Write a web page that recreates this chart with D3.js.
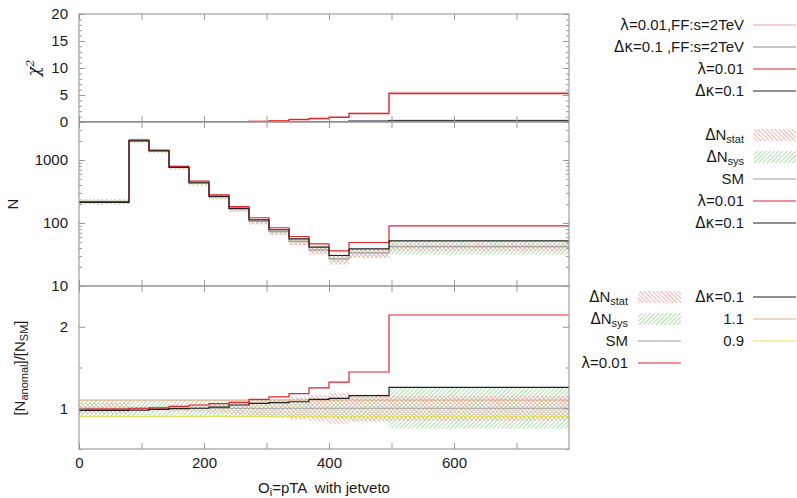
<!DOCTYPE html>
<html>
<head>
<meta charset="utf-8">
<script src="https://cdn.jsdelivr.net/npm/d3@7"></script>
<style>
body { margin: 0; background: #fff; }
text { font-family: "Liberation Sans", Arial, sans-serif; font-size: 15px; fill: #1a1a1a; }
.gr { font-family: "DejaVu Sans", sans-serif; }
</style>
</head>
<body>
<svg id="chart" width="797" height="498"></svg>
<script>
// bin edges of O_i = pTA
var edges = [0, 80, 112, 144, 176, 208, 240, 272, 304, 336, 368, 400, 432, 496, 784];

// event counts
var nSM  = [218, 2020, 1400, 760, 430, 260, 165, 106, 73, 51, 37.5, 27, 33.5, 42];
var nLam = [218, 2075, 1430, 790, 460, 280, 182, 121, 84, 61, 46.5, 36, 49, 90];
var nKap = [213, 2000, 1390, 765, 435, 265, 170, 112, 78, 56, 41.5, 30.5, 38.7, 52];

// relative uncertainties
var statErr = [0.068, 0.022, 0.027, 0.036, 0.048, 0.062, 0.078, 0.097, 0.117, 0.14, 0.163, 0.19, 0.17, 0.154];
var sysErr  = [0.10, 0.09, 0.09, 0.09, 0.10, 0.10, 0.10, 0.11, 0.11, 0.12, 0.12, 0.13, 0.15, 0.25];

// ratios to SM
var rLam = [0.99, 1.0, 1.005, 1.024, 1.04, 1.056, 1.073, 1.11, 1.14, 1.18, 1.25, 1.32, 1.445, 2.144];
var rKap = [0.975, 0.978, 0.985, 0.995, 1.0, 1.015, 1.04, 1.06, 1.068, 1.08, 1.11, 1.12, 1.154, 1.257];

// chi^2
var chiLam   = [0, 0, 0, 0, 0, 0.02, 0.05, 0.1, 0.19, 0.45, 0.63, 0.87, 1.55, 5.27];
var chiLamFF = [0, 0, 0, 0, 0, 0.03, 0.07, 0.13, 0.23, 0.52, 0.72, 0.97, 1.7, 5.5];
var chiKap   = [0, 0, 0, 0, 0, 0, 0, 0, 0.01, 0.02, 0.03, 0.05, 0.1, 0.2];
var chiKapFF = [0, 0, 0, 0, 0, 0, 0, 0.01, 0.02, 0.03, 0.05, 0.08, 0.2, 0.3];

var xTicks = [0, 100, 200, 300, 400, 500, 600, 700];
var xLabels = [0, 200, 400, 600];

var svg = d3.select("#chart");
var L = 79, R = 569;
var x = d3.scaleLinear().domain([0, 784]).range([L, R]);
var yC = d3.scaleLinear().domain([0, 20]).range([122, 14]);
var yN = d3.scaleLog().domain([10, 4000]).range([286, 122]);
var yR = d3.scaleLinear().domain([0.5, 2.5]).range([449, 286]);

var cRed = "#e8202a", cPink = "#f2a0a0", cGray = "#a0a0a0", cBlack = "#222", cFFgray = "#8c8c8c";
var c11 = "#e0b090", c09 = "#e6e060";

// hatch patterns: thin rotated stripes
var defs = svg.append("defs");
function hatch(id, angle, color) {
	var p = defs.append("pattern").attr("id", id).attr("patternUnits", "userSpaceOnUse")
		.attr("width", 3).attr("height", 3).attr("patternTransform", "rotate(" + angle + ")");
	p.append("rect").attr("x", 0).attr("y", 0).attr("width", 0.9).attr("height", 3).attr("fill", color);
}
hatch("pStat", -45, "#f0acac");
hatch("pSys", 45, "#a6daa6");

var panels = [
	{id: "pc", y: yC, top: 14, bot: 122},
	{id: "pn", y: yN, top: 122, bot: 286},
	{id: "pr", y: yR, top: 286, bot: 449}
];
panels.forEach(function(p) {
	defs.append("clipPath").attr("id", "clip-" + p.id)
		.append("rect").attr("x", L).attr("y", p.top).attr("width", R - L).attr("height", p.bot - p.top);
});

function stepPath(vals, ys) {
	var pts = edges.map(function(e, i) { return [e, vals[Math.min(i, vals.length - 1)]]; });
	return d3.line().curve(d3.curveStepAfter)
		.x(function(d) { return x(d[0]); })
		.y(function(d) { return ys(d[1]); })(pts);
}
function drawStep(g, vals, ys, color, w) {
	g.append("path").attr("d", stepPath(vals, ys))
		.attr("fill", "none").attr("stroke", color).attr("stroke-width", w || 1.2);
}
function drawBands(g, center, err, ys, pat) {
	g.selectAll(null).data(err).enter().append("rect")
		.attr("x", function(d, i) { return x(edges[i]); })
		.attr("width", function(d, i) { return x(edges[i + 1]) - x(edges[i]); })
		.attr("y", function(d, i) { return ys(center(i) * (1 + d)); })
		.attr("height", function(d, i) { return ys(center(i) * (1 - d)) - ys(center(i) * (1 + d)); })
		.attr("fill", "url(#" + pat + ")");
}

// ---- top: chi^2
var gC = svg.append("g").attr("clip-path", "url(#clip-pc)");
drawStep(gC, chiLamFF, yC, cPink);
drawStep(gC, chiKapFF, yC, cFFgray);
drawStep(gC, chiLam, yC, cRed);
drawStep(gC, chiKap, yC, cBlack, 1.5);

// ---- middle: N
var gN = svg.append("g").attr("clip-path", "url(#clip-pn)");
drawBands(gN, function(i) { return nSM[i]; }, sysErr, yN, "pSys");
drawBands(gN, function(i) { return nSM[i]; }, statErr, yN, "pStat");
drawStep(gN, nSM, yN, cGray);
drawStep(gN, nLam, yN, cRed);
drawStep(gN, nKap, yN, cBlack);

// ---- bottom: ratio
var gR = svg.append("g").attr("clip-path", "url(#clip-pr)");
drawBands(gR, function() { return 1; }, sysErr, yR, "pSys");
drawBands(gR, function() { return 1; }, statErr, yR, "pStat");
[[1.1, c11], [0.9, c09], [1, cGray]].forEach(function(h) {
	gR.append("line").attr("x1", L).attr("x2", R).attr("y1", yR(h[0])).attr("y2", yR(h[0]))
		.attr("stroke", h[1]).attr("stroke-width", 1.2);
});
drawStep(gR, rLam, yR, cRed);
drawStep(gR, rKap, yR, cBlack);

// ---- frames and ticks
function cleanAxis(g) {
	g.select(".domain").remove();
	g.selectAll("line").attr("stroke", "#999");
}
panels.forEach(function(p) {
	svg.append("rect").attr("x", L).attr("y", p.top).attr("width", R - L).attr("height", p.bot - p.top)
		.attr("fill", "none").attr("stroke", "#a0a0a0").attr("stroke-width", 1.2);
	svg.append("g").attr("transform", "translate(0," + p.bot + ")")
		.call(d3.axisBottom(x).tickValues(xTicks).tickSize(-6).tickFormat("")).call(cleanAxis);
	svg.append("g").attr("transform", "translate(0," + p.top + ")")
		.call(d3.axisTop(x).tickValues(xTicks).tickSize(-6).tickFormat("")).call(cleanAxis);
});

// x labels
svg.append("g").attr("transform", "translate(0,449)")
	.call(d3.axisBottom(x).tickValues(xLabels).tickSize(0).tickPadding(8).tickFormat(d3.format("d")))
	.call(function(g) { g.select(".domain").remove(); g.selectAll("text").style("font-size", "15px").attr("fill", "#1a1a1a"); });

function yTicks(ys, major, minor, fmt) {
	svg.append("g").attr("transform", "translate(" + L + ",0)")
		.call(d3.axisLeft(ys).tickValues(major).tickSize(-6).tickPadding(11).tickFormat(fmt))
		.call(cleanAxis)
		.call(function(g) { g.selectAll("text").style("font-size", "15px").attr("fill", "#1a1a1a"); });
	svg.append("g").attr("transform", "translate(" + R + ",0)")
		.call(d3.axisRight(ys).tickValues(major).tickSize(-6).tickFormat("")).call(cleanAxis);
	svg.append("g").attr("transform", "translate(" + L + ",0)")
		.call(d3.axisLeft(ys).tickValues(minor).tickSize(-3).tickFormat("")).call(cleanAxis);
	svg.append("g").attr("transform", "translate(" + R + ",0)")
		.call(d3.axisRight(ys).tickValues(minor).tickSize(-3).tickFormat("")).call(cleanAxis);
}
yTicks(yC, [0, 5, 10, 15, 20], d3.range(1, 20).filter(function(v) { return v % 5; }), d3.format("d"));
var logMinor = [];
[10, 100, 1000].forEach(function(dec) {
	for (var k = 2; k <= 9; k++) if (dec * k <= 4000) logMinor.push(dec * k);
});
yTicks(yN, [10, 100, 1000], logMinor, d3.format("d"));
yTicks(yR, [1, 2], [0.5, 1.5, 2.5], d3.format("d"));

// ---- rich text helper: parts are [text, kind]
function rich(sel, parts) {
	parts.forEach(function(pt) {
		var t = sel.append("tspan").text(pt[0]);
		if (pt[1] == "sub") t.attr("baseline-shift", "-25%").style("font-size", "11px");
		if (pt[1] == "sup") t.attr("baseline-shift", "45%").style("font-size", "11px");
		if (pt[1] == "gr") t.attr("class", "gr");
	});
	return sel;
}

// axis titles
rich(svg.append("text").attr("transform", "translate(39,68) rotate(-90)").attr("text-anchor", "middle")
	.style("font-family", "'DejaVu Serif', serif").style("font-style", "italic").style("font-size", "16px"),
	[["χ"], ["2", "sup"]]);
svg.append("text").attr("transform", "translate(18,204) rotate(-90)").attr("text-anchor", "middle").text("N");
rich(svg.append("text").attr("transform", "translate(25,368) rotate(-90)").attr("text-anchor", "middle"),
	[["[N"], ["anomal", "sub"], ["]/[N"], ["SM", "sub"], ["]"]]);
rich(svg.append("text").attr("x", 324).attr("y", 493).attr("text-anchor", "middle").style("white-space", "pre"),
	[["O"], ["i", "sub"], ["=pTA  with jetveto"]]);

// ---- legends
function legLine(textEnd, x1, x2, y, parts, color) {
	rich(svg.append("text").attr("x", textEnd).attr("y", y + 5).attr("text-anchor", "end")
		.style("white-space", "pre"), parts);
	svg.append("line").attr("x1", x1).attr("x2", x2).attr("y1", y).attr("y2", y)
		.attr("stroke", color).attr("stroke-width", 1.2);
}
function legBox(textEnd, x1, x2, y, parts, pat) {
	rich(svg.append("text").attr("x", textEnd).attr("y", y + 5).attr("text-anchor", "end"), parts);
	svg.append("rect").attr("x", x1).attr("y", y - 6).attr("width", x2 - x1).attr("height", 12)
		.attr("fill", "url(#" + pat + ")");
}

legLine(744, 753, 796, 25, [["λ", "gr"], ["=0.01,FF:s=2TeV"]], cPink);
legLine(744, 753, 796, 47, [["Δκ", "gr"], ["=0.1 ,FF:s=2TeV"]], cFFgray);
legLine(744, 753, 796, 69, [["λ", "gr"], ["=0.01"]], cRed);
legLine(744, 753, 796, 91, [["Δκ", "gr"], ["=0.1"]], cBlack);

legBox(744, 754, 796, 135, [["Δ", "gr"], ["N"], ["stat", "sub"]], "pStat");
legBox(744, 754, 796, 157, [["Δ", "gr"], ["N"], ["sys", "sub"]], "pSys");
legLine(744, 753, 796, 179, [["SM"]], cGray);
legLine(744, 753, 796, 201, [["λ", "gr"], ["=0.01"]], cRed);
legLine(744, 753, 796, 223, [["Δκ", "gr"], ["=0.1"]], cBlack);

legBox(628, 638, 681, 297, [["Δ", "gr"], ["N"], ["stat", "sub"]], "pStat");
legBox(628, 638, 681, 319, [["Δ", "gr"], ["N"], ["sys", "sub"]], "pSys");
legLine(628, 638, 681, 341, [["SM"]], cGray);
legLine(628, 638, 681, 363, [["λ", "gr"], ["=0.01"]], cRed);
legLine(744, 753, 796, 297, [["Δκ", "gr"], ["=0.1"]], cBlack);
legLine(744, 753, 796, 319, [["1.1"]], c11);
legLine(744, 753, 796, 341, [["0.9"]], c09);
</script>
</body>
</html>
